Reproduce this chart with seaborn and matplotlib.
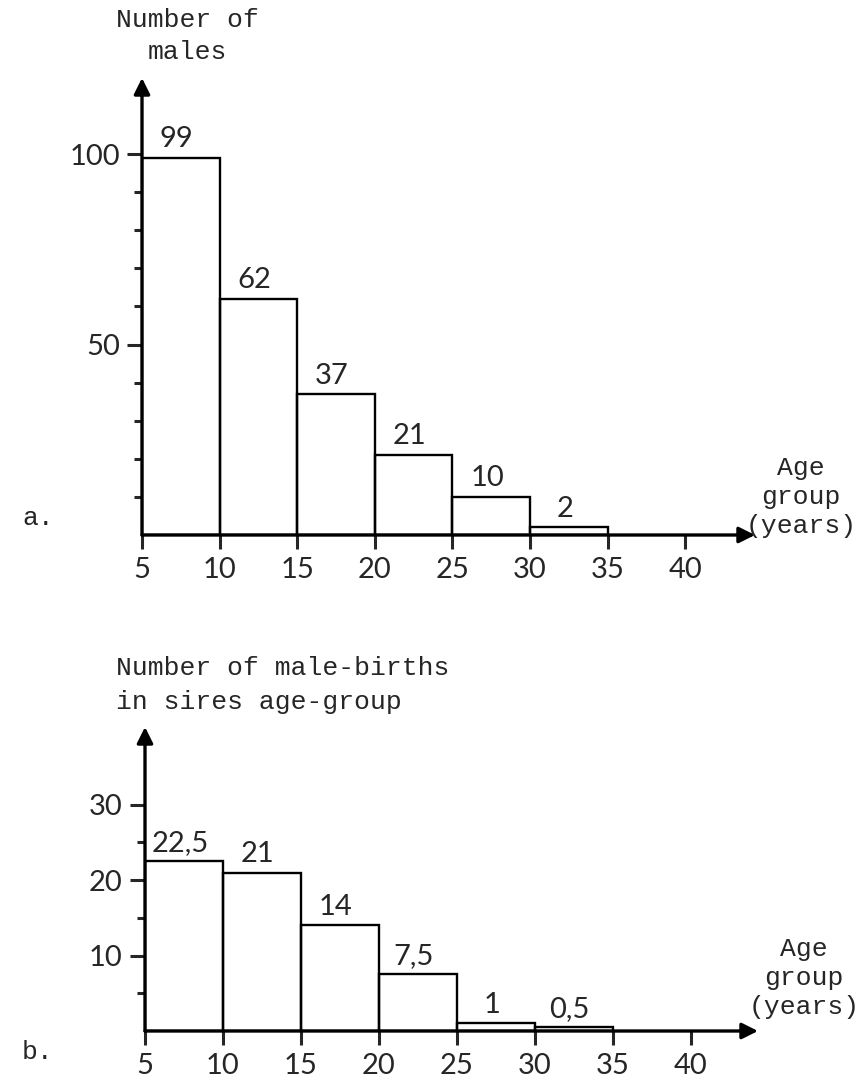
import matplotlib
matplotlib.use("Agg")
import matplotlib.pyplot as plt
from matplotlib.ticker import FixedLocator
import seaborn as sns

# Age-group bin edges (years) shared by both histograms
age_edges = [5, 10, 15, 20, 25, 30, 35]
age_ticks = [5, 10, 15, 20, 25, 30, 35, 40]

# a. number of males per age group
males = [99, 62, 37, 21, 10, 2]
# b. number of male-births per sire age group
male_births = [22.5, 21, 14, 7.5, 1, 0.5]

W, H = 860, 1082
sns.set_style("ticks")
plt.rcParams["font.family"] = ["Lato", "DejaVu Sans"]
MONO = ["Liberation Mono", "DejaVu Sans Mono"]
NUM_SIZE = 21
MONO_SIZE = 19

fig = plt.figure(figsize=(W / 100, H / 100), dpi=100)


def rect(left, top, right, bottom):
    return [left / W, 1 - bottom / H, (right - left) / W, (bottom - top) / H]


def fig_xy(x, y):
    return x / W, 1 - y / H


def fmt(v):
    return f"{v:g}".replace(".", ",")


def draw_panel(ax, values, xmax, ymax, major_y, minor_y):
    mids = [(a + b) / 2 for a, b in zip(age_edges[:-1], age_edges[1:])]
    sns.histplot(x=mids, weights=values, bins=age_edges, ax=ax,
                 fill=False, element="bars", color="black", linewidth=1.7)
    ax.set_xlim(5, xmax)
    ax.set_ylim(0, ymax)
    ax.set_xlabel("")
    ax.set_ylabel("")
    for s in ax.spines.values():
        s.set_visible(False)
    # arrowed axes
    for tip in [(1, 0), (0, 1)]:
        ax.annotate("", xy=tip, xytext=(0, 0), xycoords="axes fraction",
                    arrowprops=dict(arrowstyle="-|>", lw=2.4, color="black",
                                    mutation_scale=24, shrinkA=0, shrinkB=0),
                    annotation_clip=False)
    ax.set_xticks(age_ticks)
    ax.set_xticklabels([str(t) for t in age_ticks])
    ax.set_yticks(major_y)
    ax.set_yticklabels([str(t) for t in major_y])
    ax.yaxis.set_minor_locator(FixedLocator(minor_y))
    ax.tick_params(axis="x", which="major", length=10, width=2.2, pad=6,
                   labelsize=NUM_SIZE, direction="out")
    ax.tick_params(axis="y", which="major", length=11, width=2.2, pad=5,
                   labelsize=NUM_SIZE, direction="out")
    ax.tick_params(axis="y", which="minor", length=6, width=2.2,
                   direction="out")
    for m, v in zip(mids, values):
        ax.annotate(fmt(v), (m, v), xytext=(-3, 4), textcoords="offset points",
                    ha="center", va="bottom", fontsize=NUM_SIZE)
    ax.patch.set_alpha(0)


ax_a = fig.add_axes(rect(142, 78, 755, 535))
draw_panel(ax_a, males, 44.5, 120, [50, 100],
           [10, 20, 30, 40, 60, 70, 80, 90])

ax_b = fig.add_axes(rect(145, 727, 758, 1031))
draw_panel(ax_b, male_births, 44.3, 40.3, [10, 20, 30], [5, 15, 25])

# axis captions
fig.text(*fig_xy(187, 36), "Number of\nmales", family=MONO, fontsize=MONO_SIZE,
         ha="center", va="center", linespacing=1.45)
fig.text(*fig_xy(116, 685), "Number of male-births\nin sires age-group",
         family=MONO, fontsize=MONO_SIZE, ha="left", va="center",
         linespacing=1.5)
fig.text(*fig_xy(801, 497), "Age\ngroup\n(years)", family=MONO,
         fontsize=MONO_SIZE, ha="center", va="center", linespacing=1.25)
fig.text(*fig_xy(804, 978), "Age\ngroup\n(years)", family=MONO,
         fontsize=MONO_SIZE, ha="center", va="center", linespacing=1.25)
fig.text(*fig_xy(22, 518), "a.", family=MONO, fontsize=MONO_SIZE,
         ha="left", va="center")
fig.text(*fig_xy(22, 1052), "b.", family=MONO, fontsize=MONO_SIZE,
         ha="left", va="center")

fig.savefig("out.png", dpi=100, facecolor="white")
